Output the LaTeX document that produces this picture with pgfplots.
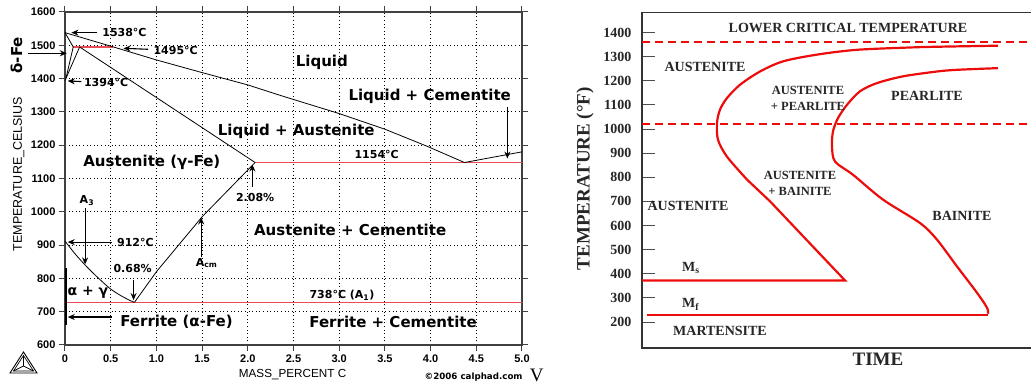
\documentclass[border=0pt]{standalone}
\usepackage{fontspec}
\usepackage{pgfplots}
\pgfplotsset{compat=1.18}
\usetikzlibrary{arrows.meta}
\newfontfamily\verd{DejaVu Sans}
\newfontfamily\arial{Liberation Sans}
\newfontfamily\tnr{Liberation Serif}
\newcommand\fs[1]{\fontsize{#1}{#1}\selectfont}
\definecolor{lred}{RGB}{235,75,85}
\definecolor{tred}{RGB}{236,12,12}
\begin{document}
\begin{tikzpicture}[x=1pt,y=1pt,
 arr/.style={-{Stealth[length=7pt,width=6pt]},line width=1.1pt},
 lab/.style={font=\verd\bfseries\fs{15}},
 sm/.style={font=\verd\bfseries\fs{11}},
 rl/.style={font=\tnr\bfseries\fs{14},text=black!85}]
\useasboundingbox (0,0) rectangle (1031,385);
% ---------------- left: Fe-C phase diagram ----------------
\begin{axis}[at={(65pt,40pt)}, anchor=south west, scale only axis,
 width=457pt, height=333pt,
 xmin=0, xmax=5, ymin=600, ymax=1600,
 xtick={0,0.5,1,1.5,2,2.5,3,3.5,4,4.5,5},
 xticklabels={0,0.5,1.0,1.5,2.0,2.5,3.0,3.5,4.0,4.5,5.0},
 ytick={600,700,800,900,1000,1100,1200,1300,1400,1500,1600},
 yticklabels={600,700,800,900,1000,1100,1200,1300,1400,1500,1600},
 grid=major, grid style={black, line width=0.9pt, dash pattern=on 1pt off 2.6pt},
 tick align=outside, major tick length=6pt,
 tick style={black!75, line width=1pt},
 axis line style={black!75, line width=1.2pt},
 ticklabel style={font=\arial\bfseries\fs{11}},
 clip=false]
% red isotherms
\addplot[lred, line width=1.2pt] coordinates {(0.09,1495) (0.53,1495)};
\addplot[lred, line width=1.2pt] coordinates {(2.08,1148) (5,1148)};
\addplot[lred, line width=1.2pt] coordinates {(0,727) (5,727)};
% liquidus
\addplot[black, line width=0.8pt] coordinates {(0,1538) (0.53,1495) (1.0,1456) (1.5,1418) (2.0,1381) (2.35,1350) (3.0,1295) (3.5,1248) (3.96,1197) (4.37,1148) (5.0,1180)};
% delta region
\addplot[black, line width=0.8pt] coordinates {(0,1538) (0.09,1495) (0.01,1400)};
\addplot[black, line width=0.8pt] coordinates {(0.16,1495) (0,1394)};
% solidus
\addplot[black, line width=0.8pt] coordinates {(0.16,1495) (2.08,1148)};
% A3
\addplot[black, line width=0.8pt, smooth] coordinates {(0,912) (0.1,877) (0.2,846) (0.3,818) (0.4,792) (0.5,768) (0.6,750) (0.7,735) (0.76,728)};
% Acm
\addplot[black, line width=0.8pt] coordinates {(0.76,728) (1.0,820) (1.5,985) (2.08,1148)};
% ferrite boundary
\addplot[black, line width=1.3pt] coordinates {(0.01,660) (0.01,830)};
% arrows
\draw[arr] (axis cs:0.35,1538) -- (axis cs:0.07,1538);
\draw[arr] (axis cs:0.91,1488) -- (axis cs:0.64,1491);
\draw[arr] (axis cs:-0.40,1476) -- (axis cs:0.02,1476);
\draw[arr] (axis cs:0.18,1391) -- (axis cs:0.03,1393);
\draw[arr,line width=0.8pt] (axis cs:4.84,1315) -- (axis cs:4.84,1160);
\draw[arr] (axis cs:2.05,1074) -- (axis cs:2.05,1142);
\draw[arr] (axis cs:0.22,1011) -- (axis cs:0.22,842);
\draw[arr] (axis cs:0.51,909) -- (axis cs:0.03,909);
\draw[arr] (axis cs:0.75,795) -- (axis cs:0.75,735);
\draw[arr] (axis cs:1.49,864) -- (axis cs:1.49,983);
\draw[arr] (axis cs:0.51,684) -- (axis cs:0.03,684);
% labels
\node[sm, anchor=west] at (axis cs:0.37,1539) {1538°C};
\node[sm, anchor=west] at (axis cs:0.93,1485) {1495°C};
\node[sm, anchor=west] at (axis cs:0.17,1388) {1394°C};
\node[font=\verd\bfseries\fs{15}, rotate=90] at (axis cs:-0.53,1470) {δ-Fe};
\node[font=\arial\fs{12.5}, rotate=90] at (axis cs:-0.505,1113) {TEMPERATURE\_CELSIUS};
\node[lab] at (axis cs:2.81,1449) {Liquid};
\node[lab] at (axis cs:3.99,1347) {Liquid + Cementite};
\node[lab] at (axis cs:2.53,1242) {Liquid + Austenite};
\node[sm] at (axis cs:3.41,1173) {1154°C};
\node[lab] at (axis cs:0.95,1149) {Austenite (γ-Fe)};
\node[sm] at (axis cs:2.08,1044) {2.08\%};
\node[sm] at (axis cs:0.24,1034) {A\textsubscript{3}};
\node[sm] at (axis cs:0.77,909) {912°C};
\node[sm] at (axis cs:0.74,831) {0.68\%};
\node[sm] at (axis cs:1.55,846) {A\textsubscript{cm}};
\node[font=\verd\bfseries\fs{14}] at (axis cs:0.25,756) {α + γ};
\node[lab] at (axis cs:1.22,669) {Ferrite (α-Fe)};
\node[lab] at (axis cs:3.12,945) {Austenite + Cementite};
\node[sm] at (axis cs:3.03,750) {738°C (A\textsubscript{1})};
\node[lab] at (axis cs:3.59,669) {Ferrite + Cementite};
\node[font=\arial\fs{11.7}] at (axis cs:2.49,510) {MASS\_PERCENT C};
\node[font=\verd\bfseries\fs{8.7}] at (axis cs:4.47,504) {©2006 calphad.com};
\node[font=\tnr\fs{19}, anchor=base, inner sep=0pt] at (axis cs:5.16,489) {V};
\end{axis}
% logo
\draw[line width=0.9pt] (10,12) -- (37,12) -- (23.5,33) -- cycle;
\draw[line width=0.7pt] (13.5,14) -- (33.5,14) -- (23.5,29.5) -- cycle;
\draw[line width=0.7pt] (13.5,14) -- (23.5,19) -- (33.5,14) (23.5,19) -- (23.5,29.5);
% ---------------- right: TTT diagram ----------------
\begin{axis}[at={(642pt,37pt)}, anchor=south west, scale only axis,
 width=393pt, height=335.6pt,
 xmin=0, xmax=393, ymin=92, ymax=1483,
 xtick=\empty,
 ytick={200,300,400,500,600,700,800,900,1000,1100,1200,1300,1400},
 yticklabels={200,300,400,500,600,700,800,900,1000,1100,1200,1300,1400},
 ytick pos=left, tick align=inside, major tick length=13pt,
 tick style={black!70, line width=0.8pt},
 axis line style={black!80, line width=1.6pt},
 yticklabel style={font=\tnr\bfseries\fs{14}, text=black!85, xshift=-7pt},
 clip=false]
\addplot[tred, line width=1.8pt, dash pattern=on 8pt off 5pt] coordinates {(0,1359) (393,1359)};
\addplot[tred, line width=1.8pt, dash pattern=on 8pt off 5pt] coordinates {(0,1022) (393,1022)};
% start curve
\addplot[tred, line width=2.2pt, smooth, tension=0.5] coordinates {(356,1345) (300,1341) (271,1338) (215,1328) (175,1308) (141,1280) (118,1238) (98,1183) (85,1128) (78,1080) (75,1025) (76,955) (85,885) (105,790)};
\addplot[tred, line width=2.2pt] coordinates {(105,790) (128,700) (203,372) (0,372)};
% finish curve
\addplot[tred, line width=2.2pt, smooth, tension=0.5] coordinates {(356,1252) (315,1245) (295,1238) (261,1218) (235,1190) (218,1156) (205,1100) (196,1045) (191,990) (190,928) (193,865) (211,810) (241,707) (278,610) (295,541) (315,430) (335,321) (345,259) (346,234)};
\addplot[tred, line width=2.2pt] coordinates {(346,230) (5,230)};
% labels
\node[rl] at (axis cs:206,1418) {LOWER CRITICAL TEMPERATURE};
\node[rl] at (axis cs:63,1259) {AUSTENITE};
\node[font=\tnr\bfseries\fontsize{12.5}{16}\selectfont, text=black!85, align=center] at (axis cs:166,1126) {AUSTENITE\\+ PEARLITE};
\node[rl] at (axis cs:285,1135) {PEARLITE};
\node[font=\tnr\bfseries\fontsize{12.5}{16}\selectfont, text=black!85, align=center] at (axis cs:158,773) {AUSTENITE\\+ BAINITE};
\node[rl] at (axis cs:46,679) {AUSTENITE};
\node[rl] at (axis cs:320,640) {BAINITE};
\node[rl, anchor=base west, inner sep=0pt] at (axis cs:40,410) {M\textsubscript{s}};
\node[rl, anchor=base west, inner sep=0pt] at (axis cs:40,258) {M\textsubscript{f}};
\node[rl] at (axis cs:78,164) {MARTENSITE};
\node[font=\tnr\bfseries\fs{19}, text=black!85] at (axis cs:236,44) {TIME};
\node[font=\tnr\bfseries\fs{19}, text=black!85, rotate=90] at (axis cs:-57,794) {TEMPERATURE (°F)};
\end{axis}
\end{tikzpicture}
\end{document}
